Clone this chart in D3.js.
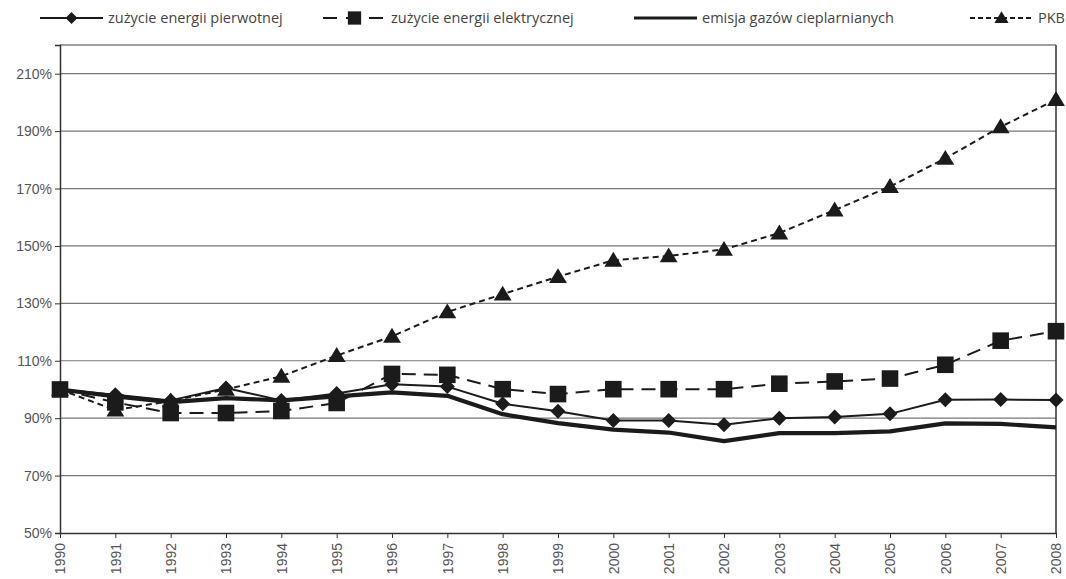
<!DOCTYPE html>
<html><head><meta charset="utf-8">
<script src="https://cdn.jsdelivr.net/npm/d3@7"></script>
<style>
html,body{margin:0;padding:0;background:#fff;}
svg{display:block;font-family:"Open Sans","Noto Sans",sans-serif;}
</style></head>
<body><svg id="c" width="1066" height="579"></svg>
<script>
const years = [1990,1991,1992,1993,1994,1995,1996,1997,1998,1999,2000,2001,2002,2003,2004,2005,2006,2007,2008];
const pierwotnej = [100, 98.2, 96.2, 100.5, 96.2, 98.6, 101.8, 101, 95, 92.4, 89.2, 89.2, 87.7, 90, 90.4, 91.5, 96.4, 96.5, 96.3];
const elektrycznej = [100, 95.5, 91.8, 91.8, 92.5, 95.3, 105.4, 105.1, 100.1, 98.4, 100.1, 100.1, 100.1, 102, 102.8, 103.8, 108.6, 117, 120.3];
const emisja = [100, 97.6, 95.6, 97, 96.2, 97.6, 99, 97.8, 91.4, 88.3, 86, 85, 82, 84.8, 84.8, 85.4, 88.2, 88, 86.8];
const pkb = [100, 92.8, 96, 100, 104.6, 111.8, 118.5, 127, 133.2, 139.3, 145, 146.5, 148.8, 154.5, 162.5, 170.7, 180.5, 191.5, 201];
const yTicks = [50,70,90,110,130,150,170,190,210];
const seriesNames = ["zużycie energii pierwotnej","zużycie energii elektrycznej","emisja gazów cieplarnianych","PKB"];

const svg = d3.select("#c");
const L=60, R=1056, T=45, B=533;
const x = d3.scaleLinear().domain([1990,2008]).range([L,R]);
const y = d3.scaleLinear().domain([50,220]).range([B,T]);
const ink = "#1b1b1b";

// gridlines
svg.append("g").selectAll("line").data(yTicks.slice(1)).join("line")
  .attr("x1",L).attr("x2",R).attr("y1",d=>y(d)).attr("y2",d=>y(d))
  .attr("stroke","#777").attr("stroke-width",1.2);
// frame
svg.append("line").attr("x1",L).attr("x2",R).attr("y1",T).attr("y2",T).attr("stroke","#444").attr("stroke-width",1.2);
svg.append("line").attr("x1",R).attr("x2",R).attr("y1",T).attr("y2",B).attr("stroke","#333").attr("stroke-width",1.5);

// axes
const yAxis = d3.axisLeft(y).tickValues(yTicks).tickFormat(d=>d+"%").tickSize(5).tickPadding(3);
const gy = svg.append("g").attr("transform",`translate(${L},0)`).call(yAxis);
gy.select(".domain").attr("stroke","#333").attr("stroke-width",1.5);
gy.selectAll(".tick line").attr("stroke","#333");
gy.selectAll("text").attr("font-size",14).attr("fill","#555");

const xAxis = d3.axisBottom(x).tickValues(years).tickFormat(d3.format("d")).tickSize(5).tickSizeOuter(0);
const gx = svg.append("g").attr("transform",`translate(0,${B})`).call(xAxis);
gx.select(".domain").attr("stroke","#333").attr("stroke-width",1.5);
gx.selectAll(".tick line").attr("stroke","#333");
gx.selectAll("text").attr("font-size",14).attr("fill","#555")
  .attr("transform","rotate(-90)").attr("text-anchor","end")
  .attr("x",-10).attr("y",0).attr("dy","0.35em");

// markers
function diamond(s){return `M0,${-s}L${s},0L0,${s}L${-s},0Z`;}
function square(s){return `M${-s},${-s}H${s}V${s}H${-s}Z`;}
function triangle(s){return `M0,${-s}L${s*1.05},${s*0.75}L${-s*1.05},${s*0.75}Z`;}

const series = [
  {v:pierwotnej, w:2, dash:null, mark:()=>diamond(7.5)},
  {v:elektrycznej, w:2, dash:"14,8", mark:()=>square(8.3)},
  {v:emisja, w:4.2, dash:null, mark:null},
  {v:pkb, w:2, dash:"6,4", mark:()=>triangle(8.5)}
];
const line = d3.line().x((d,i)=>x(years[i])).y(d=>y(d));
const order = [3,1,0,2];
order.forEach(k=>{
  const s = series[k];
  svg.append("path").attr("d",line(s.v)).attr("fill","none").attr("stroke",ink)
    .attr("stroke-width",s.w).attr("stroke-dasharray",s.dash).attr("stroke-linejoin","round");
});
order.forEach(k=>{
  const s = series[k];
  if(!s.mark) return;
  svg.append("g").selectAll("path").data(s.v).join("path")
    .attr("transform",(d,i)=>`translate(${x(years[i])},${y(d)})`)
    .attr("d",s.mark()).attr("fill",ink);
});

// legend
const legX = [40, 323, 634, 970];
const ly = 18;
const lg = svg.append("g");
series.forEach((s,i)=>{
  const x0 = legX[i], x1 = x0+63;
  lg.append("line").attr("x1",x0).attr("x2",x1).attr("y1",ly).attr("y2",ly)
    .attr("stroke",ink).attr("stroke-width",i===2?3:2.2).attr("stroke-dasharray",s.dash? (i===1?"14,9":"5,3"):null);
  if(s.mark){
    lg.append("path").attr("transform",`translate(${(x0+x1)/2},${ly}) scale(0.8)`).attr("d",s.mark()).attr("fill",ink);
  }
  lg.append("text").attr("x",x1+5).attr("y",ly).attr("dy","0.35em")
    .attr("font-size",14.5).attr("fill","#444").text(seriesNames[i]);
});
</script></body></html>
